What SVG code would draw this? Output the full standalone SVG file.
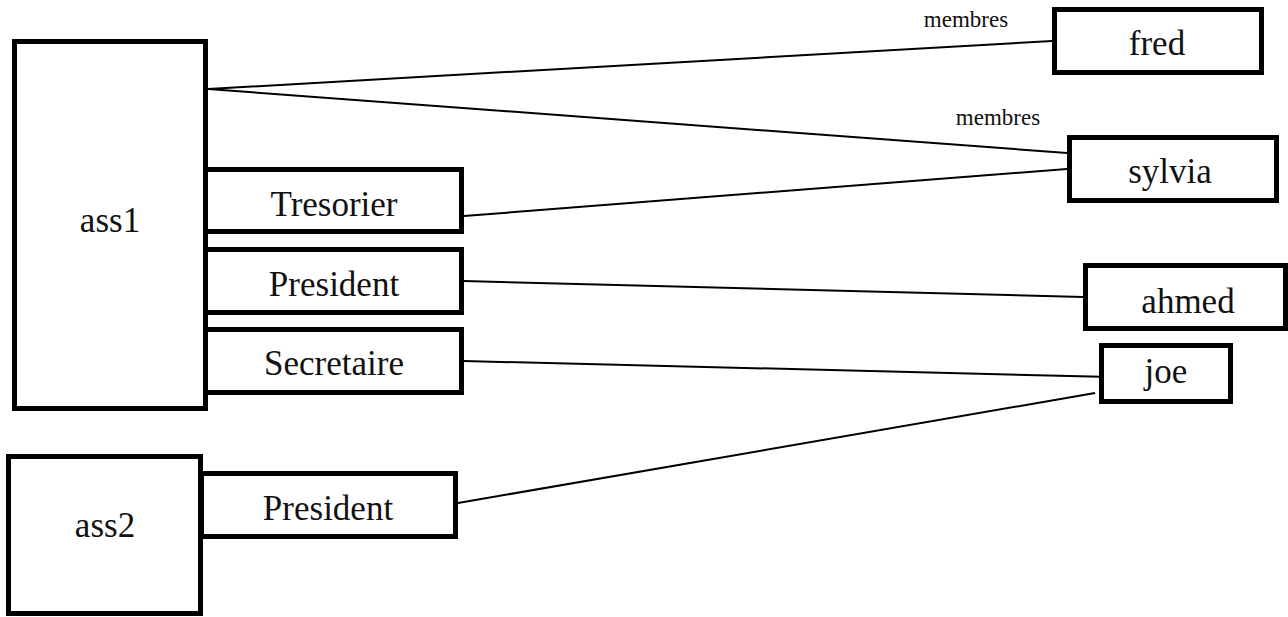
<svg xmlns="http://www.w3.org/2000/svg" width="1288" height="617" viewBox="0 0 1288 617">
<style>
.box{fill:#fff;stroke:#000;stroke-width:5}
.t{font-size:35px;text-anchor:middle;fill:#111}
.lbl{font-size:23px;text-anchor:middle;fill:#111}
.c line{stroke:#000;stroke-width:2}
</style>
<rect width="1288" height="617" fill="#fff"/>
<g font-family="'Liberation Serif', 'Times New Roman', 'DejaVu Serif', serif">
<g class="c" id="connectors">
<line x1="208" y1="89" x2="1052" y2="41"/>
<line x1="208" y1="89" x2="1067" y2="153"/>
<line x1="464" y1="216" x2="1067" y2="169"/>
<line x1="464" y1="281" x2="1083" y2="297"/>
<line x1="464" y1="361" x2="1112" y2="377"/>
<line x1="458" y1="503" x2="1095" y2="393"/>
<text class="lbl" x="966" y="27">membres</text>
<text class="lbl" x="998" y="125">membres</text>
</g>
<g id="ass1"><rect class="box" x="14.5" y="41.5" width="191" height="367"/><text class="t" x="110" y="232">ass1</text></g>
<g id="tresorier"><rect class="box" x="205.5" y="169.5" width="256" height="62"/><text class="t" x="334" y="216">Tresorier</text></g>
<g id="president1"><rect class="box" x="205.5" y="249.5" width="256" height="63"/><text class="t" x="334" y="296">President</text></g>
<g id="secretaire"><rect class="box" x="205.5" y="329.5" width="256" height="63"/><text class="t" x="334" y="375">Secretaire</text></g>
<g id="ass2"><rect class="box" x="8.5" y="456.5" width="192" height="157"/><text class="t" x="105" y="537">ass2</text></g>
<g id="president2"><rect class="box" x="201.5" y="473.5" width="254" height="63"/><text class="t" x="328" y="520">President</text></g>
<g id="fred"><rect class="box" x="1054.5" y="9.5" width="207" height="63"/><text class="t" x="1157" y="55">fred</text></g>
<g id="sylvia"><rect class="box" x="1069.5" y="137.5" width="207" height="63"/><text class="t" x="1170" y="183">sylvia</text></g>
<g id="ahmed"><rect class="box" x="1085.5" y="265.5" width="200" height="63"/><text class="t" x="1188" y="313">ahmed</text></g>
<g id="joe"><rect class="box" x="1101.5" y="345.5" width="129" height="56"/><text class="t" x="1166" y="383">joe</text></g>
</g>
</svg>
